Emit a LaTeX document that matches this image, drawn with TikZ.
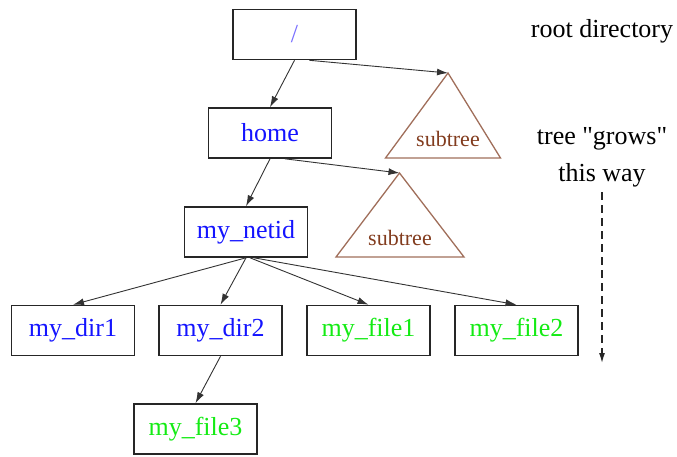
\documentclass[tikz,border=0pt]{standalone}
\usepackage{fontspec}
\setmainfont{Liberation Serif}
\usetikzlibrary{arrows.meta}
\definecolor{dirblue}{RGB}{20,20,255}
\definecolor{rootblue}{RGB}{120,110,255}
\definecolor{filegreen}{RGB}{20,235,20}
\definecolor{treebrown}{RGB}{160,110,90}
\definecolor{treetext}{RGB}{130,60,30}
\tikzset{
  fsbox/.style={draw=black!85, line width=1.6pt, minimum width=123pt, minimum height=50pt,
    inner sep=0pt, font=\fontsize{26}{30}\selectfont},
  dirnode/.style={fsbox, text=dirblue},
  filenode/.style={fsbox, text=filegreen},
  link/.style={draw=black!80, line width=0.9pt, -{Latex[length=11pt,width=7pt]}},
  subtri/.style={draw=treebrown, line width=1.3pt},
  subtext/.style={text=treetext, font=\fontsize{22}{26}\selectfont},
  note/.style={font=\fontsize{26}{30}\selectfont, text=black}
}
\begin{document}
\begin{tikzpicture}[x=1pt,y=-1pt]
\useasboundingbox (0,0) rectangle (677,456);

% directories and files
\node[fsbox, text=rootblue] (root) at (294.5,34.5) {/};
\node[dirnode] (home) at (270,133) {home};
\node[dirnode] (netid) at (246,232) {my\_netid};
\node[dirnode] (dir1) at (73,330.5) {my\_dir1};
\node[dirnode] (dir2) at (220.5,330.5) {my\_dir2};
\node[filenode] (file1) at (368.5,330.5) {my\_file1};
\node[filenode] (file2) at (516.5,330.5) {my\_file2};
\node[filenode] (file3) at (195.5,429) {my\_file3};

% subtrees
\coordinate (apexA) at (448,73);
\draw[subtri] (apexA) -- (385.5,158) -- (500.5,158) -- cycle;
\node[subtext] (subA) at (448,139) {subtree};
\coordinate (apexB) at (399.5,173);
\draw[subtri] (apexB) -- (336,257) -- (464,257) -- cycle;
\node[subtext] (subB) at (400,238) {subtree};

% links
\draw[link] (root.south) -- (home.north);
\draw[link] ([xshift=15pt]root.south) -- (apexA);
\draw[link] (home.south) -- (netid.north);
\draw[link] ([xshift=15pt]home.south) -- (apexB);
\draw[link] (netid.south) -- (dir1.north);
\draw[link] (netid.south) -- (dir2.north);
\draw[link] ([xshift=4pt]netid.south) -- (file1.north);
\draw[link] ([xshift=8pt]netid.south) -- (file2.north);
\draw[link] (dir2.south) -- (file3.north);

% legend
\node[note] (rootlbl) at (602,31) {root directory};
\node[note] (grow1) at (602,139) {tree \textquotedbl grows\textquotedbl};
\node[note] (grow2) at (602,175) {this way};
\coordinate (growend) at (602,363);
\draw[black!85, line width=1.3pt, dashed, dash pattern=on 8pt off 5pt,
  -{Latex[length=10pt,width=6pt]}] ([yshift=-2pt]grow2.south) -- (growend);
\end{tikzpicture}
\end{document}
